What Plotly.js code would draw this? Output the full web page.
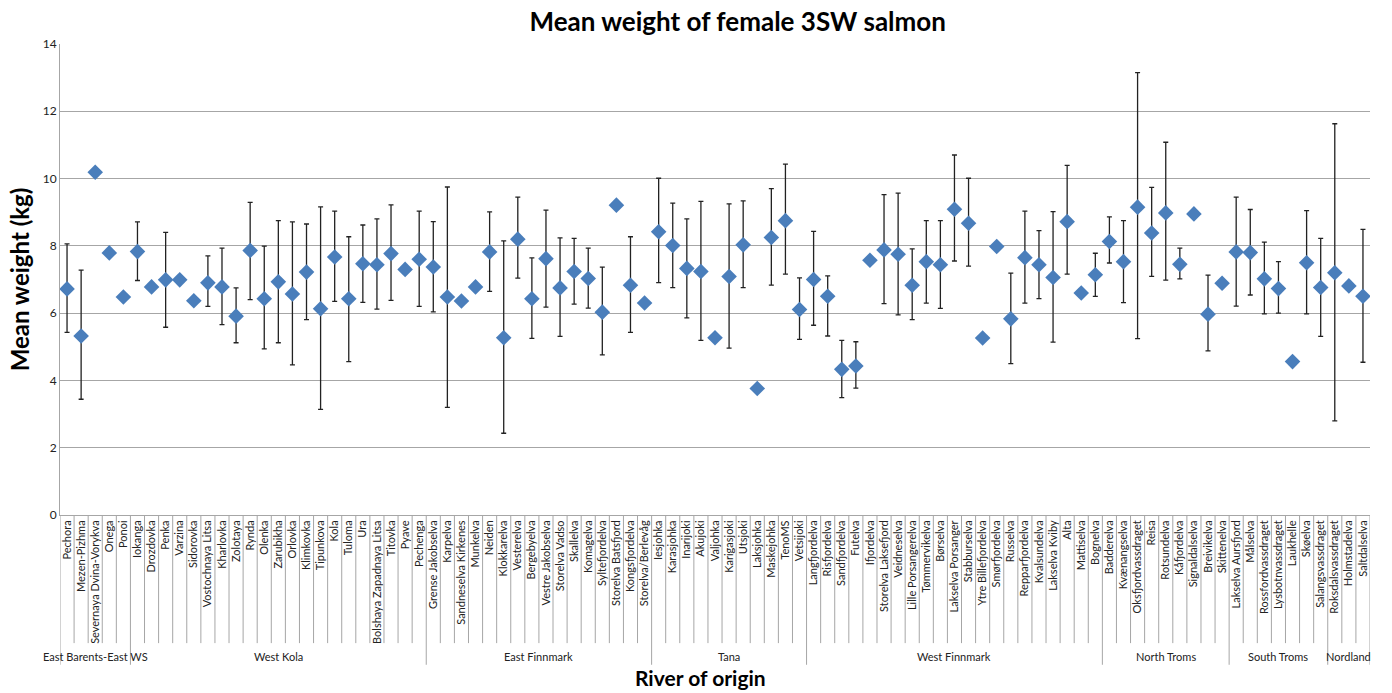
<!DOCTYPE html>
<html>
<head>
<meta charset="utf-8">
<script src="https://cdn.plot.ly/plotly-3.0.1.min.js"></script>
<style>html,body{margin:0;padding:0;background:#fff;}#chart{width:1392px;height:693px;}</style>
</head>
<body>
<div id="chart"></div>
<script>
const rivers = [
  "Pechora","Mezen-Pizhma","Severnaya Dvina-Vorykva","Onega","Ponoi",
  "Iokanga","Drozdovka","Penka","Varzina","Sidorovka","Vostochnaya Litsa","Kharlovka","Zolotaya","Rynda","Olenka","Zarubikha","Orlovka","Klimkovka","Tipunkova","Kola","Tuloma","Ura","Bolshaya Zapadnaya Litsa","Titovka","Pyave","Pechenga",
  "Grense Jakobselva","Karpelva","Sandneselva Kirkenes","Munkelva","Neiden","Klokkarelva","Vesterelva","Bergebyelva","Vestre Jakobselva","Storelva Vadso","Skallelva","Komagelva","Syltefjordelva","Storelva Batsfjord","Kongsfjordelva","Storelva/Berlevåg",
  "Iesjohka","Karasjohka","Inarijoki","Akujoki","Valjohka","Karigasjoki","Utsjoki","Laksjohka","Maskejohka","TenoMS","Vetsijoki",
  "Langfjordelva","Risfjordelva","Sandfjordelva","Futelva","Ifjordelva","Storelva Laksefjord","Veidneselva","Lille Porsangerelva","Tømmervikelva","Børselva","Lakselva Porsanger","Stabburselva","Ytre Billefjordelva","Smørfjordelva","Russelva","Repparfjordelva","Kvalsundelva","Lakselva Kviby","Alta","Mattiselva","Bognelva",
  "Badderelva","Kvænangselva","Oksfjordvassdraget","Reisa","Rotsundelva","Kåfjordelva","Signaldalselva","Breivikelva","Skittenelva",
  "Lakselva Aursfjord","Målselva","Rossfordvassdraget","Lysbotnvassdraget","Laukhelle","Skøelva","Salangsvassdraget",
  "Roksdalsvassdraget","Holmstadelva","Saltdalselva"
];
const regionNames = ["East Barents-East WS","West Kola","East Finnmark","Tana","West Finnmark","North Troms","South Troms","Nordland"];
const regionCounts = [5, 21, 16, 11, 21, 9, 7, 3];

const meanWeight = [
  6.72,5.32,10.19,7.79,6.48,
  7.83,6.78,6.99,6.99,6.37,6.90,6.78,5.91,7.86,6.43,6.93,6.57,7.22,6.13,7.67,6.43,7.47,7.44,7.77,7.30,7.60,
  7.37,6.48,6.36,6.78,7.82,5.27,8.20,6.43,7.62,6.75,7.24,7.03,6.03,9.21,6.83,6.30,
  8.42,8.01,7.33,7.24,5.27,7.09,8.03,3.76,8.25,8.75,6.11,
  7.00,6.50,4.33,4.43,7.57,7.88,7.75,6.83,7.53,7.44,9.09,8.67,5.26,7.98,5.83,7.65,7.44,7.06,8.72,6.60,7.14,
  8.13,7.53,9.15,8.38,8.98,7.45,8.95,5.97,6.89,
  7.82,7.80,7.02,6.73,4.56,7.50,6.76,
  7.20,6.81,6.50
];
const upperBound = [
  8.06,7.28,null,null,null,
  8.71,null,8.40,null,null,7.70,7.93,6.75,9.29,7.99,8.75,8.71,8.65,9.16,9.03,8.27,8.62,8.80,9.22,null,9.03,
  8.72,9.75,null,null,9.01,8.15,9.45,7.64,9.06,8.24,8.22,7.93,7.37,null,8.27,null,
  10.01,9.27,8.80,9.32,null,9.25,9.34,null,9.70,10.43,7.05,
  8.43,7.11,5.19,5.15,null,9.52,9.57,7.91,8.75,8.75,10.70,10.01,null,null,7.19,9.03,8.45,9.02,10.39,null,7.78,
  8.86,8.75,13.15,9.74,11.08,7.93,null,7.13,null,
  9.45,9.08,8.11,7.53,null,9.05,8.22,
  11.63,null,8.49
];
const lowerBound = [
  5.43,3.44,null,null,null,
  6.97,null,5.58,null,null,6.20,5.66,5.12,6.40,4.94,5.12,4.46,5.81,3.14,6.35,4.56,6.32,6.12,6.38,null,6.20,
  6.04,3.20,null,null,6.65,2.43,7.04,5.25,6.18,5.31,6.27,6.15,4.76,null,5.43,null,
  6.91,6.76,5.86,5.19,null,4.96,6.76,null,6.83,7.16,5.22,
  5.64,5.32,3.49,3.77,null,6.28,5.95,5.81,6.30,6.14,7.55,7.40,null,null,4.50,6.30,6.43,5.14,7.16,null,6.50,
  7.49,6.31,5.24,7.09,6.98,7.02,null,4.88,null,
  6.21,6.54,5.98,6.00,null,5.98,5.31,
  2.80,null,4.54
];
const yTicks = [0,2,4,6,8,10,12,14];

const plusErr = meanWeight.map((m,i) => upperBound[i] == null ? NaN : upperBound[i] - m);
const minusErr = meanWeight.map((m,i) => lowerBound[i] == null ? NaN : m - lowerBound[i]);

const trace = {
  type: 'scatter', mode: 'markers',
  x: rivers, y: meanWeight,
  marker: {symbol: 'diamond', size: 12, color: '#4a7ebb'},
  error_y: {type: 'data', symmetric: false, array: plusErr, arrayminus: minusErr,
            color: '#222', thickness: 1.3, width: 2.5},
  hoverinfo: 'x+y'
};

const FONT = 'Lato, "Open Sans", sans-serif';
const shapes = [];
const annotations = [];
const boundaries = new Set();
let start = 0;
boundaries.add(-0.5);
regionCounts.forEach((c, k) => {
  const end = start + c;
  boundaries.add(end - 0.5);
  annotations.push({
    xref: 'x', yref: 'paper', x: (start + end - 1) / 2, y: -0.2994,
    text: regionNames[k], showarrow: false, xanchor: 'center', yanchor: 'middle', borderpad: 0,
    font: {family: FONT, size: 11, color: '#222'}
  });
  start = end;
});
for (let i = 0; i <= rivers.length; i++) {
  const xb = i - 0.5;
  const isGroup = boundaries.has(xb);
  shapes.push({
    type: 'line', xref: 'x', yref: 'paper', x0: xb, x1: xb,
    y0: 0, y1: isGroup ? -0.318 : -0.272,
    line: {color: '#a6a6a6', width: 1}
  });
}
annotations.push({
  xref: 'paper', yref: 'paper', x: 0.489, y: -0.3737, xanchor: 'center', yanchor: 'bottom',
  text: '<b>River of origin</b>', showarrow: false, borderpad: 0,
  font: {family: FONT, size: 21, color: '#000'}
});

const layout = {
  width: 1392, height: 693,
  margin: {l: 60, r: 22, t: 44, b: 178},
  paper_bgcolor: '#fff', plot_bgcolor: '#fff',
  showlegend: false,
  title: {text: '<b>Mean weight of female 3SW salmon</b>', x: 0.53, xanchor: 'center', y: 0.968, yanchor: 'middle',
          font: {family: FONT, size: 26, color: '#000'}},
  xaxis: {
    type: 'category', range: [-0.5, rivers.length - 0.5],
    tickangle: -90, ticks: '', showgrid: false,
    showline: true, linecolor: '#a6a6a6', linewidth: 1,
    tickfont: {family: FONT, size: 11, color: '#222'},
    automargin: false
  },
  yaxis: {
    range: [0, 14], tickvals: yTicks, ticks: '',
    showgrid: true, gridcolor: '#a6a6a6', gridwidth: 1,
    showline: true, linecolor: '#a6a6a6', linewidth: 1, zeroline: false,
    tickfont: {family: FONT, size: 12, color: '#222'},
    automargin: false,
    title: {text: '<b>Mean weight (kg)</b>', standoff: 6,
            font: {family: FONT, size: 24, color: '#000'}}
  },
  shapes: shapes,
  annotations: annotations
};

Plotly.newPlot('chart', [trace], layout, {displayModeBar: false, staticPlot: true});
</script>
</body>
</html>
